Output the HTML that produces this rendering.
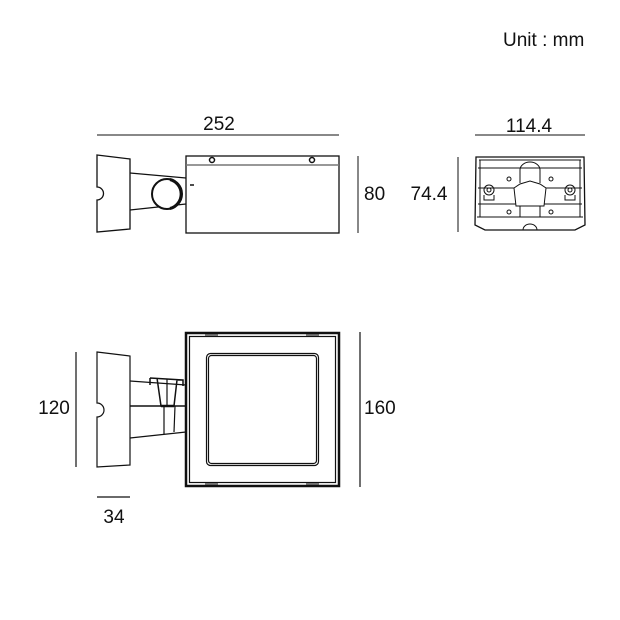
<!DOCTYPE html>
<html><head><meta charset="utf-8"><style>
html,body{margin:0;padding:0;background:#fff;}
svg{display:block;}
text{font-family:"Liberation Sans",Arial,sans-serif;fill:#111;}
</style></head><body>
<svg width="620" height="620" viewBox="0 0 620 620" xmlns="http://www.w3.org/2000/svg">
<rect width="620" height="620" fill="#fff"/>
<text x="503" y="46" font-size="19">Unit : mm</text>

<!-- TOP VIEW -->
<g stroke="#111" fill="none" stroke-width="1.3">
  <line x1="97" y1="135" x2="339" y2="135" stroke-width="1"/>
  <line x1="358" y1="156" x2="358" y2="233" stroke-width="1"/>
  <path d="M97,155 L130,159 L130,229 L97,232 L97,200 A6.5,6.5 0 0 0 97,187 Z" fill="#fff"/>
  <line x1="130" y1="173" x2="186" y2="178"/>
  <line x1="130" y1="210" x2="186" y2="204"/>
  <rect x="186" y="156" width="153" height="77" fill="#fff"/>
  <line x1="186" y1="165" x2="339" y2="165" stroke="#777" stroke-width="1.5"/>
  <circle cx="212" cy="160" r="2.5" stroke-width="1.5"/>
  <circle cx="312" cy="160" r="2.5" stroke-width="1.5"/>
  <line x1="190" y1="185" x2="194" y2="185" stroke-width="1.5"/>
  <circle cx="167" cy="194" r="15" fill="#fff" stroke-width="2"/>
  <path d="M170,179.5 A15,15 0 0 1 170,208.5" stroke-width="3"/>
</g>
<text x="219" y="130" font-size="19" text-anchor="middle">252</text>
<text x="364" y="200" font-size="19">80</text>

<!-- SIDE VIEW -->
<g stroke="#111" fill="none" stroke-width="1">
  <line x1="475" y1="135" x2="585" y2="135"/>
  <line x1="458" y1="157" x2="458" y2="232"/>
  <path d="M476,157 L584,157 L585,225 L575,230 L485,230 L475,225 Z" stroke-width="1.3"/>
  <line x1="479" y1="160" x2="581" y2="160"/>
  <line x1="477" y1="217" x2="583" y2="217"/>
  <line x1="478" y1="168" x2="582" y2="168"/>
  <line x1="478" y1="188" x2="582" y2="188"/>
  <line x1="478" y1="204" x2="582" y2="204"/>
  <line x1="480" y1="160" x2="480" y2="217"/>
  <line x1="580" y1="160" x2="580" y2="217"/>
  <path d="M520,183 L520,170 A10,8 0 0 1 540,170 L540,183"/>
  <path d="M514,188 L520,184 L530,181 L540,184 L546,188 L544,206 L516,206 Z" fill="#fff"/>
  <line x1="520" y1="206" x2="520" y2="217"/>
  <line x1="540" y1="206" x2="540" y2="217"/>
  <circle cx="489" cy="190" r="5"/><circle cx="489" cy="190" r="2"/>
  <circle cx="570" cy="190" r="5"/><circle cx="570" cy="190" r="2"/>
  <path d="M484,195 L484,200 L494,200 L494,195"/>
  <path d="M565,195 L565,200 L575,200 L575,195"/>
  <circle cx="509" cy="179" r="2"/><circle cx="551" cy="179" r="2"/>
  <circle cx="509" cy="212" r="2"/><circle cx="551" cy="212" r="2"/>
  <path d="M523,230 A7,6 0 0 1 537,230"/>
</g>
<text x="529" y="132" font-size="19" text-anchor="middle">114.4</text>
<text x="429" y="200" font-size="19" text-anchor="middle">74.4</text>

<!-- BOTTOM/FRONT VIEW -->
<g stroke="#111" fill="none" stroke-width="1.2">
  <line x1="76" y1="352" x2="76" y2="467"/>
  <line x1="360" y1="332" x2="360" y2="487"/>
  <line x1="97" y1="497" x2="130" y2="497"/>
  <path d="M97,352 L130,356 L130,465 L97,467 L97,417 A7,7 0 0 0 97,403 Z" fill="#fff"/>
  <line x1="130" y1="381" x2="186" y2="385"/>
  <line x1="130" y1="406" x2="186" y2="406" stroke-width="1.5"/>
  <line x1="130" y1="438" x2="186" y2="432"/>
  <path d="M150,378 L183,380 M150,378 L150,385 M157,378 L161,406 L174,406 L177,380 L183,380 L183,386" stroke-width="1.5"/>
  <line x1="167" y1="379" x2="167" y2="406"/>
  <line x1="161" y1="406" x2="174" y2="406" stroke-width="2.5"/>
  <line x1="164" y1="406" x2="164" y2="434"/>
  <line x1="175" y1="406" x2="174" y2="432"/>
  <rect x="186" y="333" width="153" height="153" stroke-width="2.5" fill="#fff"/>
  <rect x="189.5" y="336.5" width="146" height="146"/>
  <line x1="205" y1="335" x2="218" y2="335" stroke-width="1.5" stroke="#555"/>
  <line x1="306" y1="335" x2="319" y2="335" stroke-width="1.5" stroke="#555"/>
  <line x1="205" y1="484" x2="218" y2="484" stroke-width="1.5" stroke="#555"/>
  <line x1="306" y1="484" x2="319" y2="484" stroke-width="1.5" stroke="#555"/>
  <rect x="206.5" y="353.5" width="112" height="112" rx="4"/>
  <rect x="208.5" y="355.5" width="108" height="108" rx="3"/>
</g>
<text x="364" y="414" font-size="19">160</text>
<text x="54" y="414" font-size="19" text-anchor="middle">120</text>
<text x="114" y="523" font-size="19" text-anchor="middle">34</text>
</svg>
</body></html>
